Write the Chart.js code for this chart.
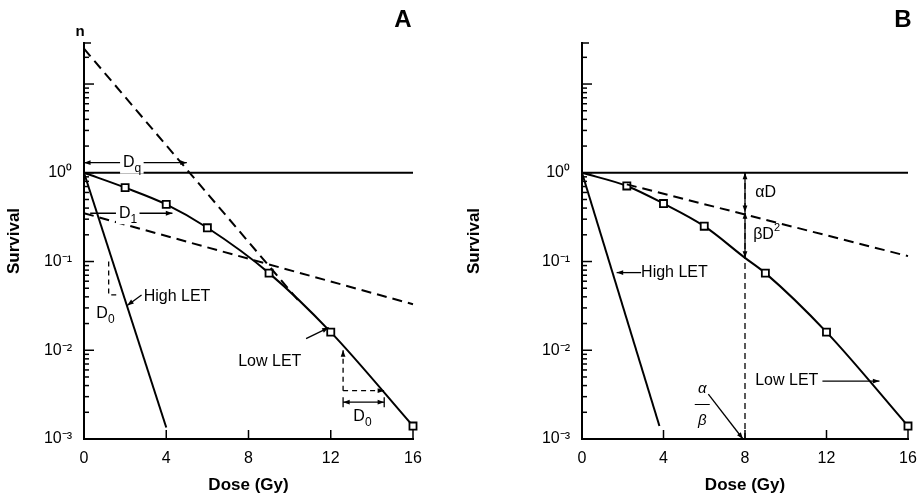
<!DOCTYPE html>
<html><head><meta charset="utf-8">
<script src="https://cdn.jsdelivr.net/npm/chart.js@4"></script>
<style>body{margin:0;background:#fff}canvas{position:absolute;top:0}</style>
</head><body>
<canvas id="a" width="460" height="500" style="left:0;width:460px;height:500px"></canvas>
<canvas id="b" width="460" height="500" style="left:460px;width:460px;height:500px"></canvas>
<script>
const doseTicks=[0,4,8,12,16];
const survTicks=[0.001,0.01,0.1,1];
const survLabels={0.001:'10⁻³',0.01:'10⁻²',0.1:'10⁻¹',1:'10⁰'};
// Panel A
const aLowDose=[0,2,4,6,9,12,16];
const aLowSurv=[1,0.68,0.44,0.24,0.074,0.016,0.0014];
const aHighDose=[0,4];
const aHighSurv=[1,0.00135];
const aSteepDose=[0,10.4];
const aSteepSurv=[25,0.037];
const aShallowDose=[0,16];
const aShallowSurv=[0.35,0.033];
// Panel B
const bLowDose=[0,2.2,4,6,8,9,12,16];
const bLowSurv=[1,0.71,0.45,0.25,0.11,0.074,0.016,0.0014];
const bHighDose=[0,3.8];
const bHighSurv=[1,0.0014];
const bDashDose=[2.2,16];
const bDashSurv=[0.74,0.115];
const refDose=[0,16];
const refSurv=[1,1];

const pts=(xs,ys)=>xs.map((x,i)=>({x,y:ys[i]}));
const F='"Liberation Sans", Arial, sans-serif';

function arrowHead(ctx,x1,y1,x2,y2){
  const a=Math.atan2(y2-y1,x2-x1),L=7;
  ctx.beginPath();ctx.moveTo(x2,y2);
  ctx.lineTo(x2-L*Math.cos(a-0.35),y2-L*Math.sin(a-0.35));
  ctx.lineTo(x2-L*Math.cos(a+0.35),y2-L*Math.sin(a+0.35));
  ctx.closePath();ctx.fill();
}
const decoPlugin={id:'deco',afterDraw(chart){
  const o=chart.options.plugins.deco,ctx=chart.ctx,xs=chart.scales.x,ys=chart.scales.y;
  const X=v=>xs.getPixelForValue(v),Y=v=>ys.getPixelForValue(v);
  ctx.save();ctx.strokeStyle='#000';ctx.fillStyle='#000';ctx.lineWidth=1.5;
  const ca=chart.chartArea;
  for(let e=-3;e<=1;e++)for(let m=1;m<=9;m++){const v=m*Math.pow(10,e);if(v>ys.max)continue;
    const y=Y(v);ctx.beginPath();ctx.moveTo(ca.left,y);ctx.lineTo(ca.left+(m==1?10:5),y);ctx.stroke();}
  ctx.beginPath();ctx.moveTo(ca.left,ca.top);ctx.lineTo(ca.left+7,ca.top);ctx.stroke();
  doseTicks.forEach(d=>{ctx.beginPath();ctx.moveTo(X(d),ca.bottom);ctx.lineTo(X(d),ca.bottom-9);ctx.stroke();});
  ctx.lineWidth=1.3;
  (o.lines||[]).forEach(l=>{ctx.setLineDash(l.dash||[]);ctx.beginPath();ctx.moveTo(X(l.p[0]),Y(l.p[1]));
    for(let i=2;i<l.p.length;i+=2)ctx.lineTo(X(l.p[i]),Y(l.p[i+1]));ctx.stroke();ctx.setLineDash([]);
    const n=l.p.length;
    if(l.end)arrowHead(ctx,X(l.p[n-4]),Y(l.p[n-3]),X(l.p[n-2]),Y(l.p[n-1]));
    if(l.start)arrowHead(ctx,X(l.p[2]),Y(l.p[3]),X(l.p[0]),Y(l.p[1]));
    if(l.bars){[0,n-2].forEach(i=>{ctx.beginPath();ctx.moveTo(X(l.p[i]),Y(l.p[i+1])-5);ctx.lineTo(X(l.p[i]),Y(l.p[i+1])+5);ctx.stroke();});}
  });
  (o.texts||[]).forEach(t=>{ctx.font=(t.font||'16px ')+F;ctx.textAlign=t.align||'left';ctx.textBaseline='middle';
    const px=t.px?t.x:X(t.x),py=t.px?t.y:Y(t.y);
    if(t.bg){const w=ctx.measureText(t.t).width+10;ctx.fillStyle='#fff';ctx.fillRect(px-3,py-9,w+2,20);ctx.fillStyle='#000';}
    ctx.fillText(t.t,px,py);
    if(t.sub){const w=ctx.measureText(t.t).width;ctx.font='12px '+F;ctx.fillText(t.sub,px+w,py+6);}
    if(t.sup){const w=ctx.measureText(t.t).width;ctx.font='11px '+F;ctx.fillText(t.sup,px+w,py-7);}
  });
  ctx.restore();
}};

function make(id,datasets,pad,yw,dec){
  return new Chart(document.getElementById(id),{type:'line',data:{datasets},
   plugins:[decoPlugin],
   options:{responsive:false,animation:false,
    layout:{padding:{left:0,right:pad.r,top:pad.t,bottom:0}},
    plugins:{legend:{display:false},tooltip:{enabled:false},deco:dec},
    scales:{
     x:{type:'linear',min:0,max:16,afterBuildTicks:s=>{s.ticks=doseTicks.map(v=>({value:v}))},
        afterFit:s=>{s.height=61},grid:{display:false},border:{color:'#000',width:2},
        ticks:{color:'#000',font:{family:F,size:16},padding:2},
        title:{display:true,text:'Dose (Gy)',color:'#000',font:{family:F,size:17,weight:'bold'},padding:{top:6}}},
     y:{type:'logarithmic',min:0.001,max:29,afterBuildTicks:s=>{s.ticks=survTicks.map(v=>({value:v}))},
        afterFit:s=>{s.width=yw},grid:{display:false},border:{color:'#000',width:2},
        ticks:{color:'#000',font:{family:F,size:16},callback:v=>survLabels[v]||'',padding:4},
        title:{display:true,text:'Survival',color:'#000',font:{family:F,size:17,weight:'bold'},padding:{bottom:4}}}
    }}});
}
function ds(d,opt){return Object.assign({data:d,borderColor:'#000',borderWidth:2,pointRadius:0,fill:false,clip:false},opt);}
make('a',[
  ds(pts(refDose,refSurv),{}),
  ds(pts(aSteepDose,aSteepSurv),{borderDash:[10,6]}),
  ds(pts(aShallowDose,aShallowSurv),{borderDash:[10,6]}),
  ds(pts(aHighDose,aHighSurv),{}),
  ds(pts(aLowDose,aLowSurv),{cubicInterpolationMode:'monotone',pointStyle:'rect',pointRadius:aLowDose.map((d,i)=>i==0?0:5),pointBackgroundColor:'#fff',pointBorderColor:'#000',pointBorderWidth:1.8})
],{r:47,t:43},84,{
  lines:[
   {p:[0,1.3,5,1.3],start:true,end:true},
   {p:[0.3,0.35,4.3,0.35],end:true},
   {p:[1.2,0.1,1.2,0.042,1.6,0.042],dash:[5,4]},
   {p:[12.6,0.0035,12.6,0.01],dash:[5,4],end:true},
   {p:[12.6,0.0035,14.6,0.0035],dash:[5,4],end:true},
   {p:[12.6,0.0026,14.6,0.0026],bars:true,start:true,end:true},
   {p:[2.8,0.042,2.1,0.032],end:true},
   {p:[10.8,0.0135,11.9,0.018],end:true},
  ],
  texts:[
   {t:'A',x:403,y:20,px:true,font:'bold 24px ',align:'center'},
   {t:'n',x:80,y:32,px:true,font:'bold 15px ',align:'center'},
   {t:'D',x:1.9,y:1.3,sub:'q',bg:true},
   {t:'D',x:1.7,y:0.35,sub:'1',bg:true},
   {t:'D',x:0.6,y:0.026,sub:'0'},
   {t:'D',x:13.1,y:0.0018,sub:'0'},
   {t:'High LET',x:2.9,y:0.04},
   {t:'Low LET',x:7.5,y:0.0075},
  ]}
);
make('b',[
  ds(pts(refDose,refSurv),{}),
  ds(pts(bDashDose,bDashSurv),{borderDash:[10,6]}),
  ds(pts(bHighDose,bHighSurv),{}),
  ds(pts(bLowDose,bLowSurv),{cubicInterpolationMode:'monotone',pointStyle:'rect',pointRadius:bLowDose.map((d,i)=>(i==0||d==8)?0:5),pointBackgroundColor:'#fff',pointBorderColor:'#000',pointBorderWidth:1.8})
],{r:12,t:43},122,{
  lines:[
   {p:[8,0.001,8,1],dash:[6,4]},
   {p:[8,0.36,8,1],start:true,end:true},
   {p:[8,0.11,8,0.36],start:true,end:true},
   {p:[2.9,0.075,1.7,0.075],end:true},
   {p:[11.8,0.0045,14.6,0.0045],end:true},
   {p:[6.2,0.0032,7.9,0.001],end:true},
  ],
  texts:[
   {t:'B',x:443,y:20,px:true,font:'bold 24px ',align:'center'},
   {t:'αD',x:8.5,y:0.6},
   {t:'βD',x:8.4,y:0.2,sup:'2'},
   {t:'High LET',x:2.9,y:0.075},
   {t:'Low LET',x:8.5,y:0.0045},
   {t:'α',x:5.9,y:0.0037,align:'center',font:'italic 15px '},
   {t:'β',x:5.9,y:0.0016,align:'center',font:'italic 15px '},
   {t:'—',x:5.9,y:0.0025,align:'center',font:'15px '},
  ]}
);
</script></body></html>
